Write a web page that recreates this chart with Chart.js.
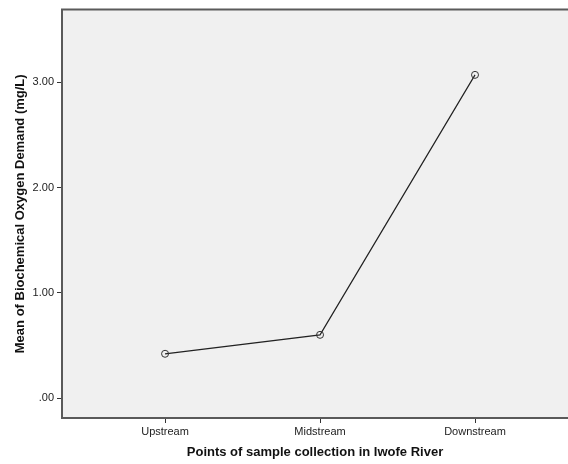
<!DOCTYPE html>
<html>
<head>
<meta charset="utf-8">
<script src="https://cdn.jsdelivr.net/npm/chart.js@4"></script>
<style>
    html, body { margin: 0; padding: 0; background: #fff; overflow: hidden; }
    #chartWrap { width: 568px; height: 464px; }
</style>
</head>
<body>
<div id="chartWrap"><canvas id="bodChart" width="568" height="464"></canvas></div>
<script>
const categories = ['Upstream', 'Midstream', 'Downstream'];
const bodMeans = [0.42, 0.60, 3.07];
const yTickValues = [0, 1, 2, 3];
const yTickLabels = ['.00', '1.00', '2.00', '3.00'];

const FONT = "'Liberation Sans', Arial, sans-serif";

// plot panel background + top frame line (SPSS style)
const panelPlugin = {
    id: 'panel',
    beforeDraw(chart) {
        const { ctx, chartArea } = chart;
        ctx.save();
        ctx.fillStyle = '#f0f0f0';
        ctx.fillRect(chartArea.left, chartArea.top, chartArea.right - chartArea.left, chartArea.bottom - chartArea.top);
        ctx.restore();
    },
    afterDraw(chart) {
        const { ctx, chartArea } = chart;
        ctx.save();
        ctx.strokeStyle = '#5a5a5a';
        ctx.lineWidth = 2;
        ctx.beginPath();
        ctx.moveTo(chartArea.left - 1, chartArea.top);
        ctx.lineTo(chartArea.right, chartArea.top);
        ctx.stroke();
        ctx.restore();
    }
};

function createChart() {
    const ctx = document.getElementById('bodChart').getContext('2d');

    new Chart(ctx, {
        type: 'line',
        data: {
            datasets: [{
                data: bodMeans.map((v, i) => ({ x: i, y: v })),
                borderColor: '#222',
                borderWidth: 1.2,
                pointRadius: 3.5,
                pointBorderWidth: 1,
                pointBorderColor: '#333',
                pointBackgroundColor: 'rgba(0,0,0,0)',
                tension: 0,
                fill: false
            }]
        },
        options: {
            responsive: false,
            animation: false,
            layout: { autoPadding: false, padding: { top: 8, right: 0, left: 0, bottom: 0 } },
            plugins: {
                legend: { display: false },
                tooltip: { enabled: false }
            },
            scales: {
                x: {
                    type: 'linear',
                    min: -0.665,
                    max: 2.6,
                    afterBuildTicks: axis => {
                        axis.ticks = categories.map((c, i) => ({ value: i }));
                    },
                    afterFit: scale => { scale.height = 46; },
                    grid: {
                        drawOnChartArea: false,
                        drawTicks: true,
                        tickLength: 5,
                        color: '#333'
                    },
                    border: { color: '#5a5a5a', width: 2 },
                    ticks: {
                        padding: 2,
                        color: '#222',
                        font: { family: FONT, size: 11 },
                        callback: value => categories[value]
                    },
                    title: {
                        display: true,
                        text: 'Points of sample collection in Iwofe River',
                        color: '#111',
                        font: { family: FONT, size: 13, weight: 'bold' },
                        padding: { top: 0, bottom: 4 }
                    }
                },
                y: {
                    min: -0.19,
                    max: 3.69,
                    afterBuildTicks: axis => {
                        axis.ticks = yTickValues.map(v => ({ value: v }));
                    },
                    afterFit: scale => { scale.width = 62; },
                    grid: {
                        drawOnChartArea: false,
                        drawTicks: true,
                        tickLength: 5,
                        color: '#333'
                    },
                    border: { color: '#5a5a5a', width: 2 },
                    ticks: {
                        padding: 3,
                        color: '#222',
                        font: { family: FONT, size: 11 },
                        callback: value => yTickLabels[yTickValues.indexOf(value)]
                    },
                    title: {
                        display: true,
                        text: 'Mean of Biochemical Oxygen Demand (mg/L)',
                        color: '#111',
                        font: { family: FONT, size: 13, weight: 'bold' },
                        padding: { top: 13, bottom: 0 }
                    }
                }
            }
        },
        plugins: [panelPlugin]
    });
}

document.addEventListener('DOMContentLoaded', createChart);
</script>
</body>
</html>
